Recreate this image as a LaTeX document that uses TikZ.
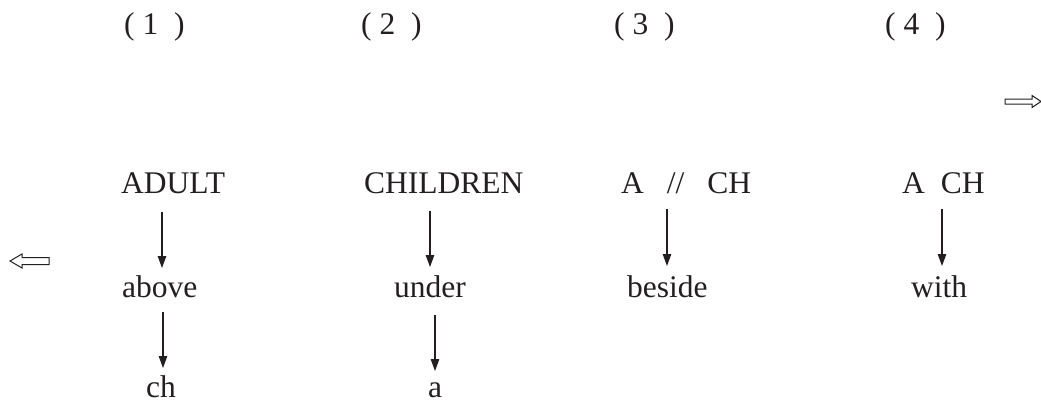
\documentclass[tikz,border=0pt]{standalone}
\usepackage{fontspec}
\setmainfont{Liberation Serif}
\usetikzlibrary{arrows.meta}
\definecolor{ink}{HTML}{231F20}
\tikzset{
  lbl/.style={inner sep=0pt, anchor=base, font=\fontsize{31.5}{36}\selectfont, text=ink},
  lblw/.style={lbl, anchor=base west},
  arr/.style={draw=ink, line width=1.1pt, -{Triangle[length=12pt,width=8.5pt]}},
  block/.style={draw=ink, line width=1pt, line join=miter, fill=white}
}
\begin{document}
\begin{tikzpicture}[x=1pt,y=-1pt]
\useasboundingbox (0,0) rectangle (1041,404);
% top labels
\node[lblw] (n1) at (124,35) {(\ 1\ \ )};
\node[lblw] (n2) at (361,35) {(\ 2\ \ )};
\node[lblw] (n3) at (614,35) {(\ 3\ \ )};
\node[lblw] (n4) at (885,35) {(\ 4\ \ )};
% block arrows
\draw[block] (1041,101.5) -- (1032,95.5) -- (1032,99) -- (1005,99) -- (1005,104) -- (1032,104) -- (1032,107.5) -- cycle;
\draw[block] (10,261) -- (22,254) -- (22,257.5) -- (49,257.5) -- (49,264.5) -- (22,264.5) -- (22,268) -- cycle;
% row of words
\node[lblw] (adult) at (121,193) {ADULT};
\node[lblw] (children) at (364,193) {CHILDREN};
\node[lblw] (aslch) at (621,193) {A\hspace{23pt}//\hspace{23pt}CH};
\node[lblw] (ach) at (902,193) {A\hspace{16pt}CH};
\node[lblw] (above) at (122,297) {above};
\node[lblw] (under) at (394,297) {under};
\node[lblw] (beside) at (627,297) {beside};
\node[lblw] (with) at (911,297) {with};
\node[lblw] (ch) at (146,397) {ch};
\node[lbl] (a) at (435,397) {a};
% arrows
\coordinate (s1) at (162,212); \coordinate (e1) at (162,268);
\coordinate (s2) at (163,312); \coordinate (e2) at (163,368);
\coordinate (s3) at (430,211); \coordinate (e3) at (430,267);
\coordinate (s4) at (435,315); \coordinate (e4) at (435,371);
\coordinate (s5) at (667,209); \coordinate (e5) at (667,266);
\coordinate (s6) at (942,209); \coordinate (e6) at (942,266);
\draw[arr] (s1) -- (e1);
\draw[arr] (s2) -- (e2);
\draw[arr] (s3) -- (e3);
\draw[arr] (s4) -- (e4);
\draw[arr] (s5) -- (e5);
\draw[arr] (s6) -- (e6);
\end{tikzpicture}
\end{document}
